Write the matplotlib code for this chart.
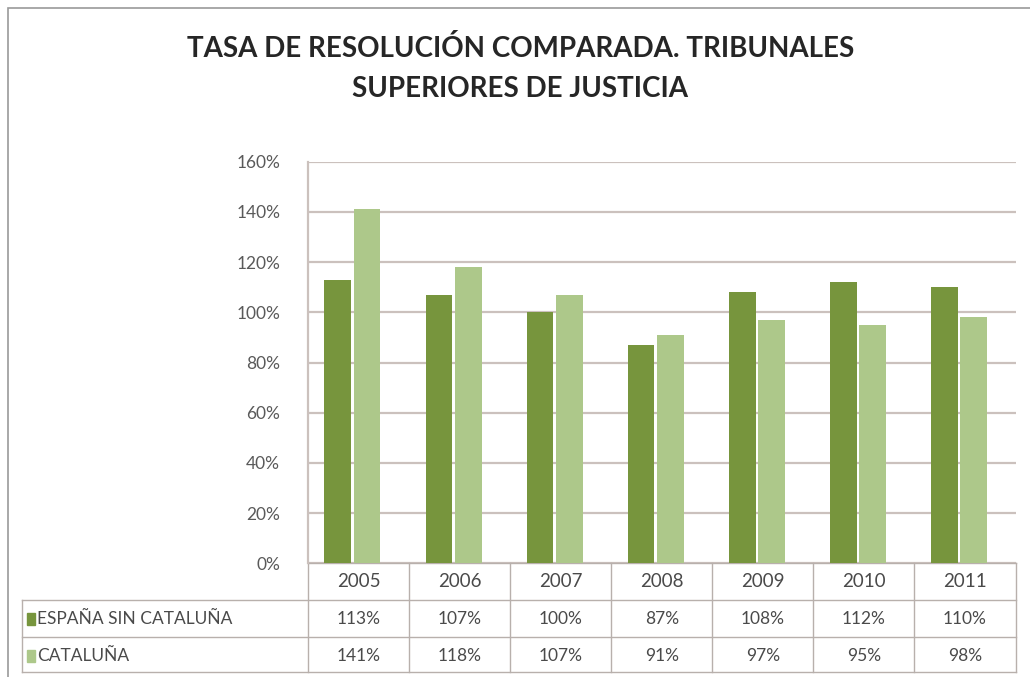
import numpy as np
import matplotlib.pyplot as plt
from matplotlib.lines import Line2D
from matplotlib.patches import Rectangle
from matplotlib.transforms import blended_transform_factory

years = ['2005', '2006', '2007', '2008', '2009', '2010', '2011']
espana_sin_cat = [113, 107, 100, 87, 108, 112, 110]
cataluna = [141, 118, 107, 91, 97, 95, 98]
series_names = ['ESPAÑA SIN CATALUÑA', 'CATALUÑA']
yticks = [0, 20, 40, 60, 80, 100, 120, 140, 160]

dark = '#77953d'
light = '#adc88a'
grid_c = '#cbc1bd'
text_c = '#4a4a4a'

plt.rcParams['font.family'] = ['Lato', 'DejaVu Sans']

fig = plt.figure(figsize=(10.3, 6.77), dpi=100)
ax = fig.add_axes([0.299, 0.168, 0.687, 0.593])

x = np.arange(len(years))
w = 0.265
shift = -0.06
ax.bar(x + shift - w / 2 - 0.012, espana_sin_cat, w, color=dark, zorder=3)
ax.bar(x + shift + w / 2 + 0.012, cataluna, w, color=light, zorder=3)

ax.set_xlim(-0.5, len(years) - 0.5)
ax.set_ylim(0, 160)
ax.set_yticks(yticks)
ax.set_yticklabels([f'{v}%' for v in yticks], color='#5a5a5a', fontsize=12.5)
ax.tick_params(axis='y', length=0, pad=20)
ax.set_xticks([])
ax.yaxis.grid(True, color=grid_c, lw=1.6, zorder=0)
for s in ['top', 'right', 'bottom']:
    ax.spines[s].set_visible(False)
ax.spines['left'].set_color(grid_c)
ax.spines['left'].set_linewidth(1.6)

# data table under the chart
tr = blended_transform_factory(ax.transData, ax.transAxes)
row_h = 37 / 401
fx0 = 22 / 1030
rows = [espana_sin_cat, cataluna]
line_kw = dict(color='#b8b0ac', lw=1.0, clip_on=False)

# horizontal lines
ax.add_line(Line2D([-0.5, 6.5], [0, 0], transform=tr, **line_kw))
for k in (1, 2, 3):
    yy = -k * row_h if k < 3 else -(109 / 401)
    fy = 0.168 + yy * 0.593
    fig.add_artist(Line2D([fx0, 0.986], [fy, fy], **line_kw))
# vertical lines
for i in range(len(years) + 1):
    ax.add_line(Line2D([i - 0.5, i - 0.5], [0, -109 / 401], transform=tr, **line_kw))
fig.add_artist(Line2D([fx0, fx0], [0.168 - row_h * 0.593, 0.168 - 109 / 401 * 0.593], **line_kw))

for i, yr in enumerate(years):
    ax.text(i, -row_h / 2, yr, transform=tr, ha='center', va='center',
            fontsize=13.5, color=text_c)
    for r, vals in enumerate(rows):
        ax.text(i, -row_h * (r + 1.5), f'{vals[i]}%', transform=tr, ha='center',
                va='center', fontsize=12.5, color=text_c)

for r, (name, col) in enumerate(zip(series_names, [dark, light])):
    fy = 0.168 - row_h * (r + 1.5) * 0.593
    fig.add_artist(Rectangle((27 / 1030, fy - 0.009), 0.008, 0.018, color=col))
    fig.text(37 / 1030, fy, name, ha='left', va='center', fontsize=12.5, color=text_c)

fig.text(0.505, 0.928, 'TASA DE RESOLUCIÓN COMPARADA. TRIBUNALES', ha='center',
         va='center', fontsize=20, fontweight='bold', color='#262626')
fig.text(0.505, 0.869, 'SUPERIORES DE JUSTICIA', ha='center', va='center',
         fontsize=20, fontweight='bold', color='#262626')

# outer chart frame
fig.add_artist(Rectangle((8 / 1030, -0.01), 1.02, 0.998, fill=False,
                         edgecolor='#9a9a9a', lw=1.2))

fig.savefig('out.png', dpi=100)
